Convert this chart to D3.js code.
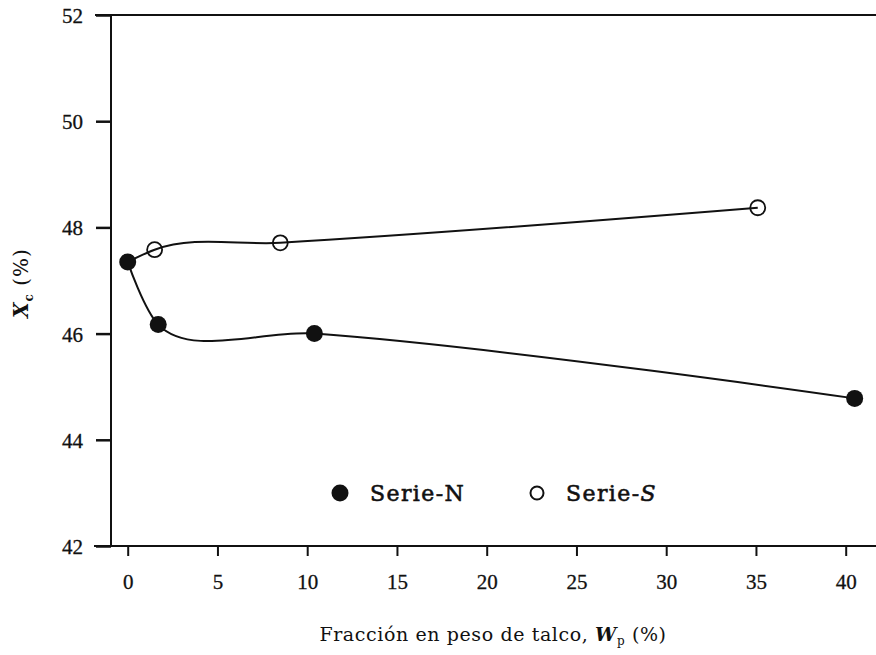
<!DOCTYPE html>
<html>
<head>
<meta charset="utf-8">
<script src="https://cdn.jsdelivr.net/npm/d3@7"></script>
<style>
  html, body { margin: 0; padding: 0; background: #fff; }
  svg text { font-family: "DejaVu Serif", "Liberation Serif", serif; fill: #111; }
  svg .tick text { font-family: "Liberation Serif", "Times New Roman", serif; }
</style>
</head>
<body>
<svg id="chart" width="876" height="655"></svg>
<script>
// Talc weight fraction (%) and crystallinity Xc (%)
const serieN_x = [0, 1.7, 10.4, 40.5];
const serieN_y = [47.35, 46.17, 46.0, 44.78];
const serieS_x = [0, 1.5, 8.5, 35.1];
const serieS_y = [47.35, 47.58, 47.71, 48.37];
const xTicks = [0, 5, 10, 15, 20, 25, 30, 35, 40];
const yTicks = [42, 44, 46, 48, 50, 52];
const legendLabels = ["Serie-N", "Serie-"];

const svg = d3.select("#chart");
const x = d3.scaleLinear().domain([0, 40]).range([127.7, 845.7]);
const y = d3.scaleLinear().domain([42, 52]).range([546, 15]);

const frameLeft = 95, frameRight = 876, axisX = 111;
const ink = "#111";

// frame: top and bottom rules, left axis
svg.append("line").attr("x1", frameLeft).attr("x2", frameRight)
  .attr("y1", y(52)).attr("y2", y(52)).attr("stroke", ink).attr("stroke-width", 2);
svg.append("line").attr("x1", frameLeft - 1).attr("x2", frameRight)
  .attr("y1", y(42)).attr("y2", y(42)).attr("stroke", ink).attr("stroke-width", 2);

const yAxis = svg.append("g").attr("transform", `translate(${axisX},0)`)
  .call(d3.axisLeft(y).tickValues(yTicks).tickSize(15).tickPadding(13).tickFormat(d3.format("d")));
yAxis.attr("font-family", null);
yAxis.select(".domain").attr("stroke", ink).attr("stroke-width", 2).attr("d", `M0,${y(52)}V${y(42)}`);
yAxis.selectAll(".tick line").attr("stroke", ink).attr("stroke-width", 2.5);
yAxis.selectAll(".tick text").attr("font-size", 21).attr("dy", "0.36em")
  .attr("stroke", ink).attr("stroke-width", 0.3);

const xAxis = svg.append("g").attr("transform", `translate(0,${y(42)})`)
  .call(d3.axisBottom(x).tickValues(xTicks).tickSize(10).tickPadding(18));
xAxis.attr("font-family", null);
xAxis.select(".domain").remove();
xAxis.selectAll(".tick line").attr("stroke", ink).attr("stroke-width", 2);
xAxis.selectAll(".tick text").attr("font-size", 21).attr("stroke", ink).attr("stroke-width", 0.3);

// fitted curves
const line = d3.line().x(d => x(d[0])).y(d => y(d[1])).curve(d3.curveCatmullRom.alpha(1));
const nPts = serieN_x.map((v, i) => [v, serieN_y[i]]);
const sPts = serieS_x.map((v, i) => [v, serieS_y[i]]);
svg.append("path").datum(nPts).attr("d", line).attr("fill", "none").attr("stroke", ink).attr("stroke-width", 2);
svg.append("path").datum(sPts).attr("d", line).attr("fill", "none").attr("stroke", ink).attr("stroke-width", 2);

// markers
svg.selectAll("circle.s").data(sPts.slice(1)).join("circle").attr("class", "s")
  .attr("cx", d => x(d[0])).attr("cy", d => y(d[1])).attr("r", 7.5)
  .attr("fill", "none").attr("stroke", ink).attr("stroke-width", 1.8);
svg.selectAll("circle.n").data(nPts).join("circle").attr("class", "n")
  .attr("cx", d => x(d[0])).attr("cy", d => y(d[1])).attr("r", 8.5).attr("fill", ink);

// legend
const lg = svg.append("g");
lg.append("circle").attr("cx", 340).attr("cy", 493).attr("r", 8.5).attr("fill", ink);
lg.append("text").attr("x", 370).attr("y", 501).attr("font-size", 22).attr("letter-spacing", 1.4)
  .attr("stroke", ink).attr("stroke-width", 0.6).text(legendLabels[0]);
lg.append("circle").attr("cx", 537).attr("cy", 493).attr("r", 6.5).attr("fill", "none")
  .attr("stroke", ink).attr("stroke-width", 2);
const ls = lg.append("text").attr("x", 566).attr("y", 501).attr("font-size", 22).attr("letter-spacing", 1.4)
  .attr("stroke", ink).attr("stroke-width", 0.6);
ls.append("tspan").text(legendLabels[1]);
ls.append("tspan").attr("font-style", "italic").text("S");

// axis titles
const xt = svg.append("text").attr("x", 493).attr("y", 641).attr("text-anchor", "middle")
  .attr("font-size", 19).attr("letter-spacing", 0.6);
xt.append("tspan").text("Fracción en peso de talco, ");
xt.append("tspan").attr("font-style", "italic").attr("font-weight", "bold").text("W");
xt.append("tspan").attr("font-size", 12).attr("dy", 4).text("p");
xt.append("tspan").attr("dy", -4).text(" (%)");

const yt = svg.append("text").attr("transform", "translate(28,283) rotate(-90)")
  .attr("text-anchor", "middle").attr("font-size", 20).attr("letter-spacing", 1);
yt.append("tspan").attr("font-style", "italic").attr("font-weight", "bold").text("X");
yt.append("tspan").attr("font-size", 12).attr("dy", 5).attr("font-weight", "bold").text("c");
yt.append("tspan").attr("dy", -5).text(" (%)");
</script>
</body>
</html>
